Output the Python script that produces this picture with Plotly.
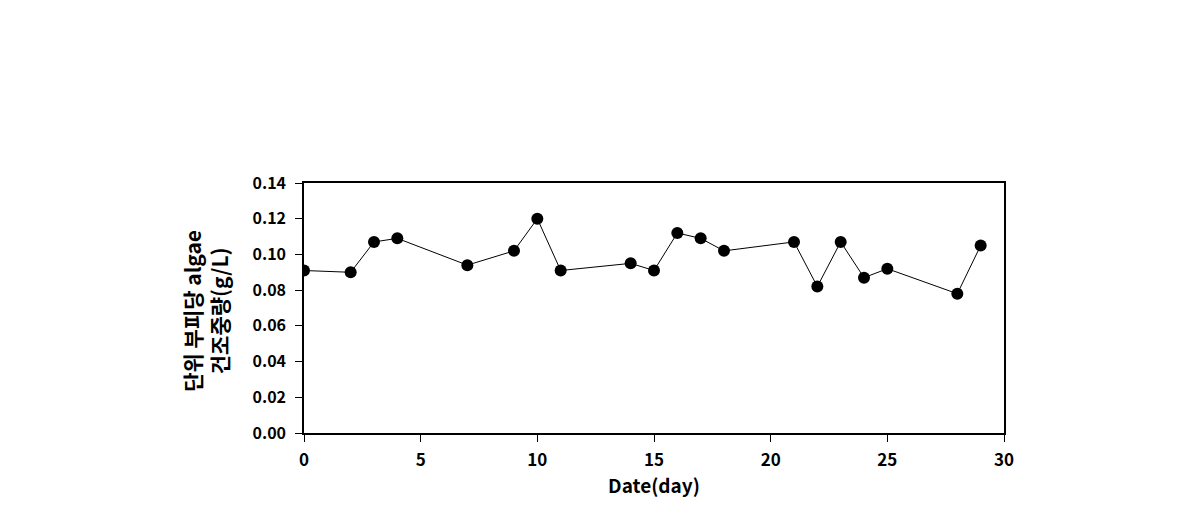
import plotly.graph_objects as go

days = [0, 2, 3, 4, 7, 9, 10, 11, 14, 15, 16, 17, 18, 21, 22, 23, 24, 25, 28, 29]
dry_weight = [0.091, 0.090, 0.107, 0.109, 0.094, 0.102, 0.120, 0.091, 0.095, 0.091,
              0.112, 0.109, 0.102, 0.107, 0.082, 0.107, 0.087, 0.092, 0.078, 0.105]

x_title = "Date(day)"
y_title = "단위 부피당 algae<br>건조중량(g/L)"

font_family = "Noto Sans CJK KR, Liberation Sans, Arial, sans-serif"

fig = go.Figure()
fig.add_trace(go.Scatter(
    x=days, y=dry_weight, mode="lines+markers",
    line=dict(color="black", width=1),
    marker=dict(color="black", size=12),
    showlegend=False,
))

fig.update_layout(
    width=1190, height=520,
    margin=dict(l=304, r=186, t=183, b=87),
    paper_bgcolor="white", plot_bgcolor="white",
    font=dict(family=font_family, color="black"),
    xaxis=dict(
        range=[0, 30], tickvals=[0, 5, 10, 15, 20, 25, 30],
        showgrid=False, zeroline=False,
        showline=True, linecolor="black", linewidth=1.5, mirror=True,
        ticks="outside", ticklen=7, tickcolor="black", tickwidth=1,
        tickfont=dict(size=17, weight="bold"), ticklabelstandoff=4,
        title=dict(text=x_title, font=dict(size=19, weight="bold"), standoff=8),
    ),
    yaxis=dict(
        range=[0, 0.14], tickvals=[0, 0.02, 0.04, 0.06, 0.08, 0.10, 0.12, 0.14],
        tickformat=".2f",
        showgrid=False, zeroline=False,
        showline=True, linecolor="black", linewidth=1.5, mirror=True,
        ticks="outside", ticklen=7, tickcolor="black", tickwidth=1,
        tickfont=dict(size=16, weight="bold"), ticklabelstandoff=6,
    ),
    annotations=[dict(
        text=y_title, textangle=-90, showarrow=False,
        xref="paper", yref="paper", x=-0.141, y=0.49,
        xanchor="center", yanchor="middle",
        font=dict(size=21, weight="bold", family=font_family),
    )],
)

fig.write_html("out.html")
